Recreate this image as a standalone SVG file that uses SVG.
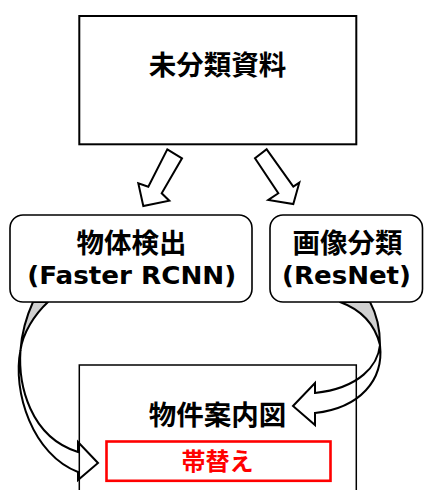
<svg xmlns="http://www.w3.org/2000/svg" width="424" height="490" viewBox="0 0 424 490">
  <style>
    .box { fill: #ffffff; stroke: #000000; stroke-width: 2; }
    .rbox { fill: #ffffff; stroke: #000000; stroke-width: 1.6; }
    .arrow { fill: #ffffff; stroke: #000000; stroke-width: 2; stroke-linejoin: miter; }
    .back { fill: #d0d0d0; stroke: #000000; stroke-width: 2; stroke-linejoin: round; }
    .jp { font-family: "Noto Sans CJK JP", "Noto Sans CJK SC", sans-serif; font-weight: bold; font-size: 27.5px; fill: #000000; text-anchor: middle; }
    .lat { font-family: "DejaVu Sans", "Liberation Sans", sans-serif; font-weight: bold; font-size: 24px; fill: #000000; text-anchor: middle; }
    .red { fill: #ff0000; }
  </style>
  <rect x="0" y="0" width="424" height="490" fill="#ffffff"/>

  <g id="connectors">
    <polygon class="arrow" points="167.3,149.3 182,158.3 161.7,193.3 169.3,200.7 143.3,206 138.3,183.3 148.3,186.7"/>
    <polygon class="arrow" points="266.7,149.3 293.3,186.7 299.3,182.7 293.3,204 268.3,200 278.3,193.3 255,158.3"/>
    <g id="curved-left">
      <path class="back" d="M33,302 C28,313 22,330 20.5,350 C23,333 34,315 48,302 Z"/>
      <path class="arrow" d="M20.5,350 C12,392 33,455 78,472 L78,480 L98,463 L78,442 L78,452 C30,437 18,385 20.5,350 Z"/>
    </g>
    <g id="curved-right">
      <path class="back" d="M370,302 C376,313 380,327 380,345 C375,325 362,310 340,302 Z"/>
      <path class="arrow" d="M380,345 C384,380 360,408 315,413 L315,425 L293,406 L315,383 L315,393 C360,388 378,365 380,345 Z"/>
    </g>
  </g>

  <g id="unclassified">
    <rect class="box" x="79.3" y="16" width="277" height="128.3"/>
    <text class="jp" x="217.5" y="74.8">未分類資料</text>
  </g>

  <g id="detection">
    <rect class="rbox" x="10" y="215" width="242" height="87" rx="13" ry="13"/>
    <text class="jp" x="131.5" y="252.8">物体検出</text>
    <text class="lat" x="131.7" y="284" textLength="209" lengthAdjust="spacingAndGlyphs">(Faster RCNN)</text>
  </g>

  <g id="classification">
    <rect class="rbox" x="270" y="215" width="152.5" height="87" rx="13" ry="13"/>
    <text class="jp" x="347.5" y="252.8">画像分類</text>
    <text class="lat" x="346.5" y="284" textLength="129" lengthAdjust="spacingAndGlyphs">(ResNet)</text>
  </g>

  <g id="floorplan">
    <path d="M79.3,492 L79.3,365 L356.3,365 L356.3,492" fill="none" stroke="#000000" stroke-width="1.5"/>
    <text class="jp" x="217.5" y="424.8">物件案内図</text>
    <g id="band-change">
      <rect x="106.5" y="441.5" width="224" height="39.3" fill="#ffffff" stroke="#ff0000" stroke-width="2.6"/>
      <text class="jp red" x="217.5" y="469.8" style="font-size:24px">帯替え</text>
    </g>
  </g>
</svg>
